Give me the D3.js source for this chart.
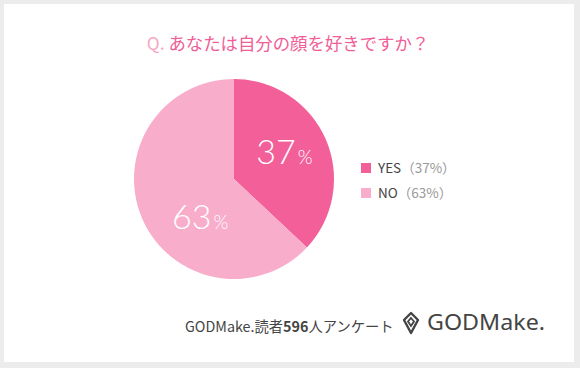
<!DOCTYPE html>
<html>
<head>
<meta charset="utf-8">
<script src="https://cdn.jsdelivr.net/npm/d3@7/dist/d3.min.js"></script>
<style>
  body { margin: 0; background: #ececec; }
  svg { display: block; }
  text { font-family: "Noto Sans CJK JP", "Noto Sans", sans-serif; }
</style>
</head>
<body>
<div id="chart"></div>
<script>
// Survey data
const categories = ["YES", "NO"];
const percents = [37, 63];
const sliceColors = ["#f25f99", "#f8adca"];
const titleQ = "Q.";
const titleText = "あなたは自分の顔を好きですか？";
const footerParts = [["GODMake.読者", "normal"], ["596", "bold"], ["人アンケート", "normal"]];
const brandText = "GODMake.";

const W = 580, H = 368;

const svg = d3.select("#chart")
  .append("svg")
  .attr("width", W)
  .attr("height", H);

// grey frame + white card
svg.append("rect").attr("width", W).attr("height", H).attr("fill", "#ececec");
svg.append("rect").attr("x", 4).attr("y", 4).attr("width", 570).attr("height", 358).attr("fill", "#fff");

// Title
const title = svg.append("text")
  .attr("x", 288)
  .attr("y", 50)
  .attr("text-anchor", "middle")
  .style("font-size", "17.4px");
title.append("tspan").attr("fill", "#f7a6c5").text(titleQ + " ");
title.append("tspan").attr("fill", "#ef5e97").text(titleText);

// Pie
const cx = 234, cy = 179, radius = 100;
const pie = d3.pie().sort(null).value((d) => d)(percents);
const arc = d3.arc().innerRadius(0).outerRadius(radius);
const labelArc = d3.arc().innerRadius(radius * 0.55).outerRadius(radius * 0.55);

const g = svg.append("g").attr("transform", `translate(${cx},${cy})`);

g.selectAll("path")
  .data(pie)
  .join("path")
  .attr("d", arc)
  .attr("fill", (d, i) => sliceColors[i]);

const labels = g.selectAll("text.pct")
  .data(pie)
  .join("text")
  .attr("class", "pct")
  .attr("transform", (d) => {
    let [x, y] = labelArc.centroid(d);
    // the large slice's label sits lower, nearer the bottom-left
    if (d.endAngle - d.startAngle > Math.PI) {
      const a = (d.startAngle + d.endAngle) / 2 - 0.5;
      x = Math.sin(a) * radius * 0.55;
      y = -Math.cos(a) * radius * 0.55;
    }
    return `translate(${x},${y})`;
  })
  .attr("text-anchor", "middle")
  .attr("dy", "0.43em")
  .attr("fill", "#fff")
  .style("font-family", "Lato, 'Noto Sans', sans-serif")
  .style("font-weight", 300);
labels.append("tspan").style("font-size", "34px").text((d) => d.data);
labels.append("tspan").attr("dx", 2).style("font-size", "19px").text("%");

// Legend
const legend = svg.append("g").attr("transform", "translate(361,163)");
const rows = legend.selectAll("g")
  .data(categories)
  .join("g")
  .attr("transform", (d, i) => `translate(0,${i * 25})`);
rows.append("rect")
  .attr("width", 10)
  .attr("height", 10)
  .attr("fill", (d, i) => sliceColors[i]);
const lt = rows.append("text")
  .attr("x", 17)
  .attr("y", 9.5)
  .style("font-size", "13.5px");
lt.append("tspan").attr("fill", "#444").text((d) => d);
lt.append("tspan").attr("fill", "#999").text((d, i) => `（${percents[i]}%）`);

// Footer
const foot = svg.append("text")
  .attr("x", 185)
  .attr("y", 332)
  .attr("fill", "#444")
  .style("font-size", "14.3px");
foot.selectAll("tspan")
  .data(footerParts)
  .join("tspan")
  .style("font-weight", (d) => d[1])
  .text((d) => d[0]);

// Brand logo: diamond mark + wordmark
const logo = svg.append("g").attr("transform", "translate(411,323)");
logo.append("path")
  .attr("d", "M0,-10 L7,-3 L0,10 L-7,-3 Z")
  .attr("fill", "none")
  .attr("stroke", "#444")
  .attr("stroke-width", 2.4)
  .attr("stroke-linejoin", "round");
logo.append("path")
  .attr("d", "M0,-5 L3,-1.5 L0,3 L-3,-1.5 Z")
  .attr("fill", "none")
  .attr("stroke", "#444")
  .attr("stroke-width", 1.8);
svg.append("text")
  .attr("x", 427)
  .attr("y", 330)
  .attr("fill", "#444")
  .attr("textLength", 118)
  .attr("lengthAdjust", "spacingAndGlyphs")
  .style("font-family", "'Noto Sans', sans-serif")
  .style("font-size", "21px")
  .text(brandText);
</script>
</body>
</html>
